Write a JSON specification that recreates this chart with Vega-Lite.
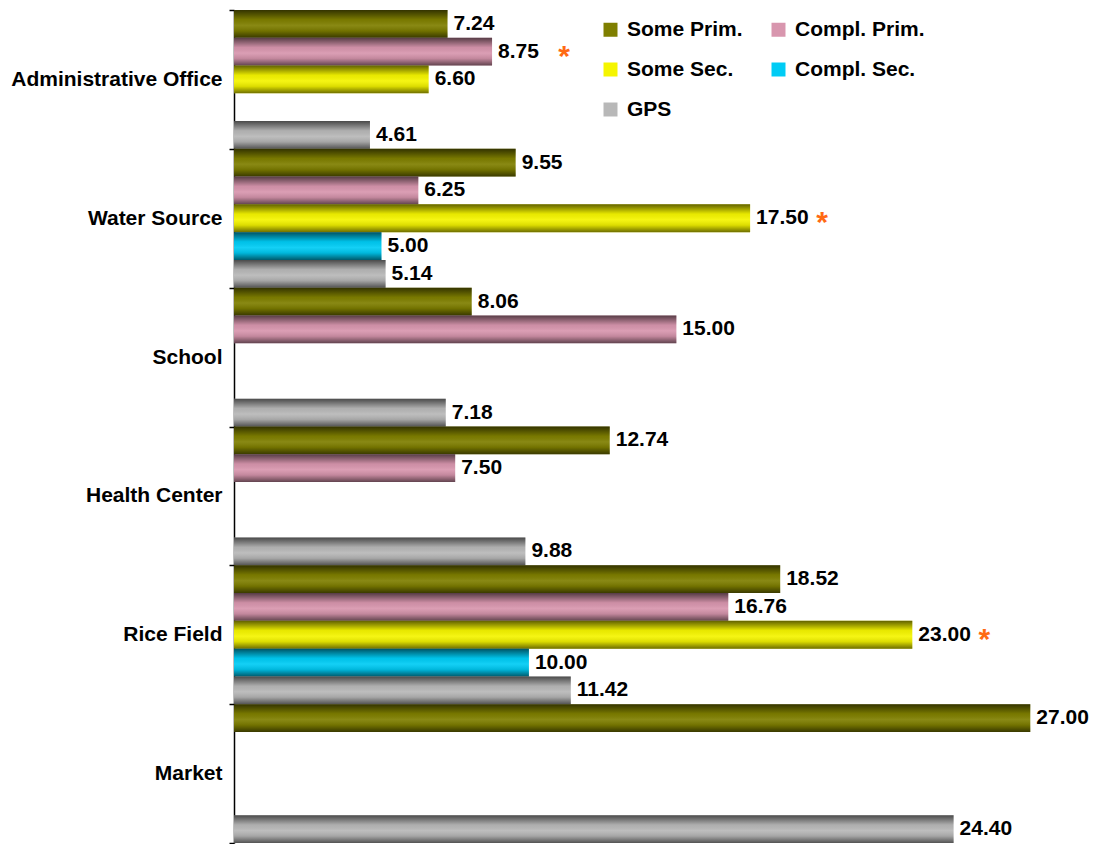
{
  "$schema": "https://vega.github.io/schema/vega-lite/v6.json",
  "autosize": "none",
  "padding": {"left": 234, "top": 10, "right": 1, "bottom": 1},
  "width": 870,
  "height": 833,
  "background": "white",
  "config": {
    "font": "Liberation Sans",
    "view": {"stroke": null}
  },
  "data": {
    "values": [
      {"cat": "Administrative Office", "series": "Some Prim.", "value": 7.24, "star": false},
      {"cat": "Administrative Office", "series": "Compl. Prim.", "value": 8.75, "star": true},
      {"cat": "Administrative Office", "series": "Some Sec.", "value": 6.60, "star": false},
      {"cat": "Administrative Office", "series": "GPS", "value": 4.61, "star": false},
      {"cat": "Water Source", "series": "Some Prim.", "value": 9.55, "star": false},
      {"cat": "Water Source", "series": "Compl. Prim.", "value": 6.25, "star": false},
      {"cat": "Water Source", "series": "Some Sec.", "value": 17.50, "star": true},
      {"cat": "Water Source", "series": "Compl. Sec.", "value": 5.00, "star": false},
      {"cat": "Water Source", "series": "GPS", "value": 5.14, "star": false},
      {"cat": "School", "series": "Some Prim.", "value": 8.06, "star": false},
      {"cat": "School", "series": "Compl. Prim.", "value": 15.00, "star": false},
      {"cat": "School", "series": "GPS", "value": 7.18, "star": false},
      {"cat": "Health Center", "series": "Some Prim.", "value": 12.74, "star": false},
      {"cat": "Health Center", "series": "Compl. Prim.", "value": 7.50, "star": false},
      {"cat": "Health Center", "series": "GPS", "value": 9.88, "star": false},
      {"cat": "Rice Field", "series": "Some Prim.", "value": 18.52, "star": false},
      {"cat": "Rice Field", "series": "Compl. Prim.", "value": 16.76, "star": false},
      {"cat": "Rice Field", "series": "Some Sec.", "value": 23.00, "star": true},
      {"cat": "Rice Field", "series": "Compl. Sec.", "value": 10.00, "star": false},
      {"cat": "Rice Field", "series": "GPS", "value": 11.42, "star": false},
      {"cat": "Market", "series": "Some Prim.", "value": 27.00, "star": false},
      {"cat": "Market", "series": "GPS", "value": 24.40, "star": false}
    ]
  },
  "encoding": {
    "y": {
      "field": "cat", "type": "nominal",
      "sort": ["Administrative Office", "Water Source", "School", "Health Center", "Rice Field", "Market"],
      "scale": {"paddingInner": 0, "paddingOuter": 0},
      "axis": {
        "title": null,
        "domainColor": "black",
        "domainWidth": 1.5,
        "tickColor": "black",
        "tickWidth": 1.5,
        "tickSize": 5,
        "tickBand": "extent",
        "labelFont": "Liberation Sans",
        "labelFontWeight": "bold",
        "labelFontSize": 21,
        "labelColor": "black",
        "labelPadding": 7,
        "labelLimit": 0
      }
    },
    "yOffset": {
      "field": "series", "type": "nominal",
      "scale": {"domain": ["Some Prim.", "Compl. Prim.", "Some Sec.", "Compl. Sec.", "GPS"], "paddingInner": 0, "paddingOuter": 0}
    },
    "x": {
      "field": "value", "type": "quantitative",
      "scale": {"domain": [0, 29.5], "nice": false},
      "axis": null
    }
  },
  "layer": [
    {
      "mark": {"type": "bar"},
      "encoding": {
        "color": {
          "field": "series", "type": "nominal",
          "scale": {
            "domain": ["Some Prim.", "Some Sec.", "GPS", "Compl. Prim.", "Compl. Sec."],
            "range": ["#7f7f00", "#f5f500", "#b8b8b8", "#d896ae", "#00ccf5"]
          },
          "legend": {
            "title": null,
            "orient": "none",
            "legendX": 366,
            "legendY": 9,
            "columns": 2,
            "columnPadding": 25,
            "rowPadding": 18,
            "symbolType": "square",
            "symbolSize": 196,
            "symbolStrokeWidth": 0,
            "labelFont": "Liberation Sans",
            "labelFontWeight": "bold",
            "labelFontSize": 21,
            "labelColor": "black",
            "labelOffset": 6,
            "labelLimit": 0
          }
        }
      }
    },
    {
      "mark": {
        "type": "bar",
        "color": {
          "gradient": "linear",
          "x1": 0, "y1": 0, "x2": 0, "y2": 1,
          "stops": [
            {"offset": 0, "color": "rgba(0,0,0,0.6)"},
            {"offset": 0.35, "color": "rgba(0,0,0,0.05)"},
            {"offset": 0.55, "color": "rgba(255,255,255,0.08)"},
            {"offset": 0.75, "color": "rgba(0,0,0,0.1)"},
            {"offset": 1, "color": "rgba(0,0,0,0.55)"}
          ]
        }
      }
    },
    {
      "mark": {"type": "text", "align": "left", "baseline": "middle", "dx": 6, "font": "Liberation Sans", "fontWeight": "bold", "fontSize": 21, "color": "black"},
      "encoding": {
        "text": {"field": "value", "type": "quantitative", "format": ".2f"}
      }
    },
    {
      "transform": [{"filter": "datum.star"}],
      "mark": {"type": "text", "align": "center", "baseline": "middle", "dx": 72, "dy": 5, "font": "Liberation Sans", "fontWeight": "bold", "fontSize": 30, "color": "#ff6a13", "text": "*"},
      "encoding": {}
    }
  ]
}
